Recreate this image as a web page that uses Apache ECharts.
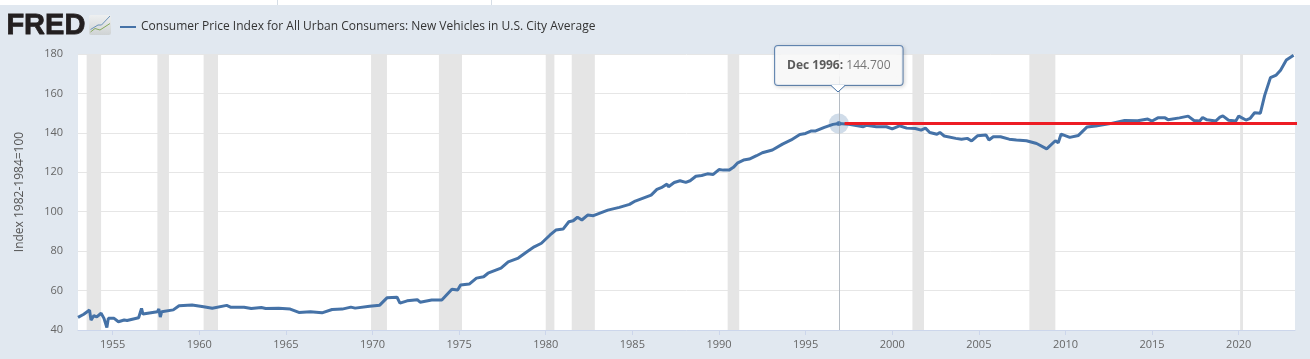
<!DOCTYPE html>
<html>
<head>
<meta charset="utf-8">
<script src="https://cdn.jsdelivr.net/npm/echarts@6/dist/echarts.min.js"></script>
<style>
html, body { margin: 0; padding: 0; background: #e1e8f0; }
#strip { position: absolute; left: 0; top: 0; width: 1310px; height: 5px; background: #fff; }
#strip i { position: absolute; top: 0; width: 1px; height: 5px; background: #d5dde6; }
#chart { position: absolute; left: 0; top: 0; width: 1310px; height: 359px; }
</style>
</head>
<body>
<div id="strip"><i style="left:277px"></i><i style="left:491px"></i></div>
<div id="chart"></div>
<script>
var seriesName = 'Consumer Price Index for All Urban Consumers: New Vehicles in U.S. City Average';
var dates = [
    '1953-01', '1953-05', '1953-09', '1953-10', '1953-12', '1954-02', '1954-05', '1954-07', '1954-09', '1954-10',
    '1955-02', '1955-05', '1955-09', '1955-11', '1956-07', '1956-09', '1956-10', '1957-08', '1957-09', '1957-10',
    '1957-11', '1958-07', '1958-11', '1959-08', '1960-04', '1960-10', '1961-08', '1961-11', '1962-08', '1963-01',
    '1963-08', '1963-11', '1964-08', '1965-04', '1965-05', '1965-10', '1966-06', '1967-02', '1967-09', '1968-04',
    '1968-10', '1969-01', '1969-11', '1970-06', '1970-11', '1971-06', '1971-08', '1972-01', '1972-08', '1972-10',
    '1973-06', '1974-01', '1974-08', '1974-12', '1975-02', '1975-08', '1976-01', '1976-06', '1976-09', '1977-06',
    '1977-11', '1978-06', '1978-12', '1979-05', '1979-10', '1980-04', '1980-08', '1981-01', '1981-02', '1981-05',
    '1981-08', '1981-11', '1982-02', '1982-06', '1982-10', '1983-08', '1984-04', '1984-11', '1985-03', '1986-02',
    '1986-06', '1986-09', '1987-01', '1987-02', '1987-06', '1987-10', '1988-02', '1988-05', '1988-09', '1989-01',
    '1989-05', '1989-09', '1990-01', '1990-04', '1990-08', '1990-11', '1991-02', '1991-06', '1991-10', '1992-03',
    '1992-07', '1993-02', '1993-09', '1994-03', '1994-09', '1995-01', '1995-05', '1995-08', '1996-02', '1996-08',
    '1996-12', '1997-07', '1998-05', '1998-07', '1999-02', '1999-09', '2000-01', '2000-06', '2000-11', '2001-05',
    '2001-09', '2001-12', '2002-03', '2002-08', '2002-10', '2003-01', '2003-09', '2004-01', '2004-05', '2004-08',
    '2004-12', '2005-06', '2005-08', '2005-11', '2006-04', '2006-10', '2007-03', '2007-10', '2008-05', '2008-12',
    '2009-06', '2009-08', '2009-10', '2010-04', '2010-10', '2011-04', '2011-10', '2012-08', '2013-06', '2014-03',
    '2014-10', '2015-01', '2015-05', '2015-10', '2015-12', '2016-08', '2017-02', '2017-06', '2017-10', '2017-12',
    '2018-03', '2018-09', '2018-12', '2019-02', '2019-06', '2019-11', '2020-01', '2020-06', '2020-09', '2020-12',
    '2021-04', '2021-07', '2021-11', '2022-03', '2022-06', '2022-10', '2023-03'
];
var values = [
    46.4, 48.0, 50.1, 45.0, 47.3, 46.6, 48.5, 45.9, 41.2, 45.9,
    45.9, 44.2, 45.1, 44.8, 46.2, 51.0, 48.1, 49.3, 50.6, 46.6,
    49.3, 50.2, 52.3, 52.7, 51.8, 51.0, 52.5, 51.5, 51.5, 50.9,
    51.4, 50.9, 51.0, 50.6, 49.7, 48.9, 49.2, 48.7, 50.4, 50.6,
    51.6, 51.1, 52.1, 52.6, 56.3, 56.6, 53.6, 54.8, 55.4, 54.1,
    55.2, 55.2, 60.7, 60.3, 62.8, 63.3, 66.3, 67.0, 68.8, 71.4,
    74.6, 76.5, 79.7, 82.2, 84.0, 88.2, 90.7, 91.2, 90.6, 94.9,
    95.4, 97.2, 95.8, 98.3, 98.0, 100.8, 102.2, 103.7, 105.4, 108.4,
    111.3, 112.2, 114.0, 112.7, 114.8, 115.7, 114.9, 115.7, 118.0, 118.4,
    119.2, 118.9, 121.4, 121.1, 121.1, 122.5, 124.8, 126.2, 126.7, 128.4,
    129.9, 131.3, 134.3, 136.4, 139.2, 139.7, 141.0, 141.0, 142.8, 144.3,
    144.7, 144.4, 143.1, 143.8, 143.1, 143.1, 142.0, 143.6, 142.4, 142.2,
    141.4, 142.4, 140.2, 139.3, 140.2, 138.4, 137.2, 136.8, 137.2, 135.9,
    138.5, 138.9, 136.4, 138.0, 138.0, 136.8, 136.4, 136.0, 134.6, 131.9,
    136.0, 135.0, 139.4, 137.7, 138.7, 143.0, 143.5, 144.7, 146.3, 146.1,
    147.0, 146.0, 147.6, 147.6, 146.7, 147.6, 148.5, 146.3, 146.0, 147.8,
    146.6, 146.0, 148.0, 148.6, 146.4, 146.0, 148.5, 146.5, 147.4, 150.2,
    150.0, 159.0, 168.0, 169.3, 171.8, 176.9, 179.4
];
var recessionStarts = ['1953-07', '1957-08', '1960-04', '1969-12', '1973-11', '1980-01', '1981-07', '1990-07', '2001-03', '2007-12', '2020-02'];
var recessionEnds = ['1954-05', '1958-04', '1961-02', '1970-11', '1975-03', '1980-07', '1982-11', '1991-03', '2001-11', '2009-06', '2020-04'];
var yearTicks = [1955, 1960, 1965, 1970, 1975, 1980, 1985, 1990, 1995, 2000, 2005, 2010, 2015, 2020];
var hoverDate = '1996-12';
var hoverLabel = 'Dec 1996:';
var hoverValue = 144.7;
var refLineDates = ['1997-04', '2023-12'];

// 'YYYY-MM' -> position on the year axis
function yearPos(d) {
    var p = d.split('-');
    return +p[0] + (+p[1] - 1) / 12;
}

var fontName = '"Open Sans", sans-serif';
var myChart = echarts.init(document.getElementById('chart'));

var option = {
    animation: false,
    backgroundColor: 'transparent',
    textStyle: { fontFamily: fontName },
    grid: {
        left: 78,
        right: 15,
        top: 54,
        bottom: 29,
        show: true,
        backgroundColor: '#fff',
        borderWidth: 0
    },
    legend: {
        left: 115,
        top: 16,
        data: [seriesName],
        itemWidth: 16,
        itemHeight: 2,
        itemGap: 5,
        icon: 'rect',
        textStyle: { color: '#333', fontSize: 12, fontFamily: fontName }
    },
    xAxis: {
        type: 'value',
        min: yearPos('1953-01'),
        max: yearPos('2023-04'),
        axisLine: { show: true, onZero: false, lineStyle: { color: '#ccd6eb' } },
        axisTick: { show: true, length: 5, lineStyle: { color: '#ccd6eb' }, customValues: yearTicks },
        axisLabel: {
            color: '#666',
            fontSize: 11,
            margin: 9,
            customValues: yearTicks,
            formatter: function(v) { return String(v); }
        },
        splitLine: { show: false }
    },
    yAxis: {
        type: 'value',
        min: 40,
        max: 180,
        interval: 20,
        name: 'Index 1982-1984=100',
        nameLocation: 'middle',
        nameGap: 52,
        nameTextStyle: { color: '#555', fontSize: 12 },
        axisLine: { show: false },
        axisTick: { show: false },
        axisLabel: { color: '#666', fontSize: 11, margin: 15 },
        splitLine: { show: true, lineStyle: { color: '#e6e6e6' } }
    },
    series: [{
        name: seriesName,
        type: 'line',
        showSymbol: false,
        z: 3,
        lineStyle: { color: '#4572a7', width: 3 },
        itemStyle: { color: '#4572a7' },
        data: dates.map(function(d, i) { return [yearPos(d), values[i]]; }),
        markArea: {
            silent: true,
            z: 1,
            itemStyle: { color: '#e5e5e5', opacity: 1 },
            data: recessionStarts.map(function(s, i) { return [{ xAxis: yearPos(s) }, { xAxis: yearPos(recessionEnds[i]) }]; })
        }
    }, {
        name: 'hover halo',
        type: 'scatter',
        symbolSize: 20,
        z: 4,
        itemStyle: { color: '#4572a7', opacity: 0.25 },
        data: [[yearPos(hoverDate), hoverValue]],
        markLine: {
            silent: true,
            symbol: 'none',
            label: { show: false },
            lineStyle: { color: '#b5bcc4', width: 1, type: 'solid' },
            data: [{ xAxis: yearPos(hoverDate) }]
        }
    }, {
        name: 'ref line',
        type: 'line',
        showSymbol: false,
        clip: false,
        z: 5,
        lineStyle: { color: '#ed1c24', width: 3 },
        data: refLineDates.map(function(d) { return [yearPos(d), hoverValue]; })
    }, {
        name: 'hover point',
        type: 'scatter',
        symbolSize: 5,
        z: 6,
        itemStyle: { color: '#4572a7' },
        data: [[yearPos(hoverDate), hoverValue]],
        label: {
            show: true,
            position: 'top',
            distance: 36,
            backgroundColor: '#fff',
            borderColor: '#4572a7',
            borderWidth: 1,
            borderRadius: 3,
            padding: [7, 6, 7, 6],
            shadowColor: 'rgba(0,0,0,0.18)',
            shadowBlur: 4,
            shadowOffsetX: 1,
            shadowOffsetY: 1,
            formatter: function() {
                return '{b|' + hoverLabel + '}{v| ' + hoverValue.toFixed(3) + '}';
            },
            rich: {
                b: { color: '#333', fontWeight: 'bold', fontSize: 12, fontFamily: fontName, backgroundColor: '#f7f7f7', padding: [5, 0, 5, 6], lineHeight: 25 },
                v: { color: '#555', fontSize: 12, fontFamily: fontName, backgroundColor: '#f7f7f7', padding: [5, 6, 5, 0], lineHeight: 25 }
            }
        }
    }],
    graphic: [
        // FRED logo
        { type: 'text', left: 6, top: 11, z: 20, style: { text: 'FRED', fill: '#231f20', stroke: '#231f20', lineWidth: 0.8, font: 'bold 29px "Liberation Sans"' } },
        {
            type: 'rect', z: 20,
            shape: { x: 89, y: 15, width: 22, height: 20, r: 2 },
            style: { fill: new echarts.graphic.LinearGradient(0, 0, 0, 1, [{ offset: 0, color: '#eef0f1' }, { offset: 1, color: '#cfd3d4' }]) }
        },
        { type: 'polyline', z: 21, shape: { points: [[90.5, 29.5], [98, 25], [101.5, 25], [110, 16]] }, style: { stroke: '#6c93b8', fill: null, lineWidth: 1 } },
        { type: 'polyline', z: 21, shape: { points: [[90.5, 32], [95, 28.5], [100, 30], [110, 23.5]] }, style: { stroke: '#86a95c', fill: null, lineWidth: 1 } },
        // tooltip pointer
        { type: 'polygon', z: 30, shape: { points: [[831, 85], [838, 92], [845, 85]] }, style: { fill: '#fff', stroke: null } },
        { type: 'polyline', z: 31, shape: { points: [[831, 85.5], [838, 92], [845, 85.5]] }, style: { stroke: '#4572a7', fill: null, lineWidth: 1 } }
    ]
};
myChart.setOption(option);
</script>
</body>
</html>
